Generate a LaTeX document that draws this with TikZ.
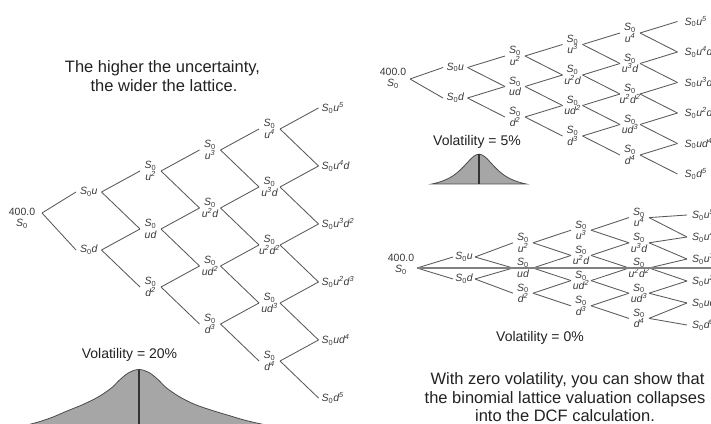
\documentclass[tikz,border=0pt]{standalone}
\usepackage{fontspec}
\setmainfont{Liberation Sans}

\definecolor{latline}{HTML}{5A5A5A}
\definecolor{labtext}{HTML}{3A3A3A}
\definecolor{headtext}{HTML}{222222}
\definecolor{bellfill}{HTML}{A6A6A6}
\definecolor{bellline}{HTML}{4A4A4A}
\definecolor{axisline}{HTML}{333333}
\definecolor{flatline}{HTML}{808080}

% S_0 and a power of u or d (nothing for 0, no exponent for 1)
\newcommand\Sz{S\textsubscript{\upshape 0}}
\newcommand\pw[2]{\ifnum#2=0 \else#1\ifnum#2>1 \textsuperscript{#2}\fi\fi}

% Five-step recombining lattice.
% #1 prefix, #2 root x, #3 column pitch, #4 x where the first step ends,
% #5 gap between incoming and outgoing point of a node, #6 gap before last labels.
% Vertical position of node (c,j) comes from \yof{c}{j}.
\newcommand\binlattice[6]{%
  \pgfmathsetmacro\yroot{\yof{0}{0}}
  \coordinate (#10-0-out) at (#2,\yroot);
  \foreach \cc in {1,...,5} {
    \foreach \jj in {0,...,\cc} {
      \pgfmathsetmacro\yy{\yof{\cc}{\jj}}
      \pgfmathsetmacro\xa{#2+#3*\cc}
      \pgfmathsetmacro\xt{\cc==1 ? #4 : \xa-#5}
      \pgfmathtruncatemacro\nU{\cc-\jj}
      \coordinate (#1\cc-\jj-in) at (\xt,\yy);
      \coordinate (#1\cc-\jj-out) at (\xa,\yy);
      \ifnum\cc=1
        \node[lbl] (#1\cc-\jj) at ({(\xt+\xa)/2},\yy) {\Sz\pw{u}{\nU}\pw{d}{\jj}};
      \else\ifnum\cc=5
        \node[lbl,anchor=west] (#1\cc-\jj) at ({\xt+#6},\yy) {\Sz\pw{u}{\nU}\pw{d}{\jj}};
      \else
        \node[lbl] (#1\cc-\jj) at ({\xa-#5/2},\yy) {\Sz\\\pw{u}{\nU}\pw{d}{\jj}};
      \fi\fi
    }
  }
  \foreach \cc in {0,...,4} {
    \foreach \jj in {0,...,\cc} {
      \pgfmathtruncatemacro\cn{\cc+1}
      \pgfmathtruncatemacro\jn{\jj+1}
      \draw[lat] (#1\cc-\jj-out) -- (#1\cn-\jj-in);
      \draw[lat] (#1\cc-\jj-out) -- (#1\cn-\jn-in);
    }
  }
}

\begin{document}
\begin{tikzpicture}[x=1pt,y=-1pt,
  lat/.style={draw=latline, line width=0.85pt},
  lbl/.style={font=\fontsize{10.5}{11.5}\selectfont\itshape, text=labtext, inner sep=0pt, align=center},
  heading/.style={font=\fontsize{16.5}{19}\selectfont, text=headtext, anchor=base, inner sep=0pt},
  vol/.style={font=\fontsize{14}{16}\selectfont, text=headtext, anchor=base, inner sep=0pt},
  bell/.style={draw=bellline, fill=bellfill, line width=0.8pt},
  bellaxis/.style={draw=axisline, line width=1.1pt},
  flat/.style={draw=flatline, line width=1.8pt}]
\useasboundingbox (0,0) rectangle (711,423);
\clip (0,0) rectangle (711,423);
\fill[white] (0,0) rectangle (711,423);

% ---------- volatility 20%: wide lattice ----------
\node[heading] (h1) at (162.5,72) {The higher the uncertainty,};
\node[heading] (h2) at (164,91) {the wider the lattice.};

\def\yof#1#2{213-21*#1+58*#2}
\binlattice{A}{42}{59.5}{76}{21}{3}
\node[lbl] (A0-0) at (22,218) {\upshape 400.0\\\Sz};

\node[vol] (v20) at (129.5,358) {Volatility = 20\%};
% peaked distribution with long tails, running off the lower edge
\draw[bell] plot[smooth, tension=0.55] coordinates {
  (10,431) (24,426) (40,421.5) (53,417) (67,411) (83,404.5)
  (99,396.5) (112,387.5) (119,380.5) (129,372.5) (139,369.5)
  (149,372.5) (159,380.5) (166,387.5) (179,396.5) (195,404.5)
  (214,411) (229,415.5) (246,420.5) (269,425.5) (299,430)} -- cycle;
\draw[bellaxis] (139,369.5) -- (139,430);

% ---------- volatility 5%: narrow lattice ----------
\def\yof#1#2{79-11.5*#1+30.5*#2}
\binlattice{B}{410}{57.5}{443}{20}{7}
\node[lbl] (B0-0) at (393,78) {\upshape 400.0\\\Sz};

\node[vol] (v5) at (477,145) {Volatility = 5\%};
\draw[bell] plot[domain=-47:47, samples=95, smooth]
  ({479+\x},{190-35.7/(1+(\x/21.2)^2)}) -- cycle;
\draw[bellaxis] (479,154.3) -- (479,184);

% ---------- volatility 0%: collapsed lattice ----------
\coordinate (Cend) at (716,268);
\def\yof#1#2{268+((#1==5) ? 2 : 0)+(2*#2-#1)*((#1==1) ? 11 : ((#1==5) ? 11 : 12.6))}
\binlattice{C}{417}{58}{453}{20}{5}
\draw[flat] (C0-0-out) -- (Cend);
\node[lbl] (C0-0) at (401,264) {\upshape 400.0\\\Sz};

\node[vol] (v0) at (540,341) {Volatility = 0\%};

\node[heading] (c1) at (567.5,384) {With zero volatility, you can show that};
\node[heading] (c2) at (565,403) {the binomial lattice valuation collapses};
\node[heading] (c3) at (565,421) {into the DCF calculation.};
\end{tikzpicture}
\end{document}
